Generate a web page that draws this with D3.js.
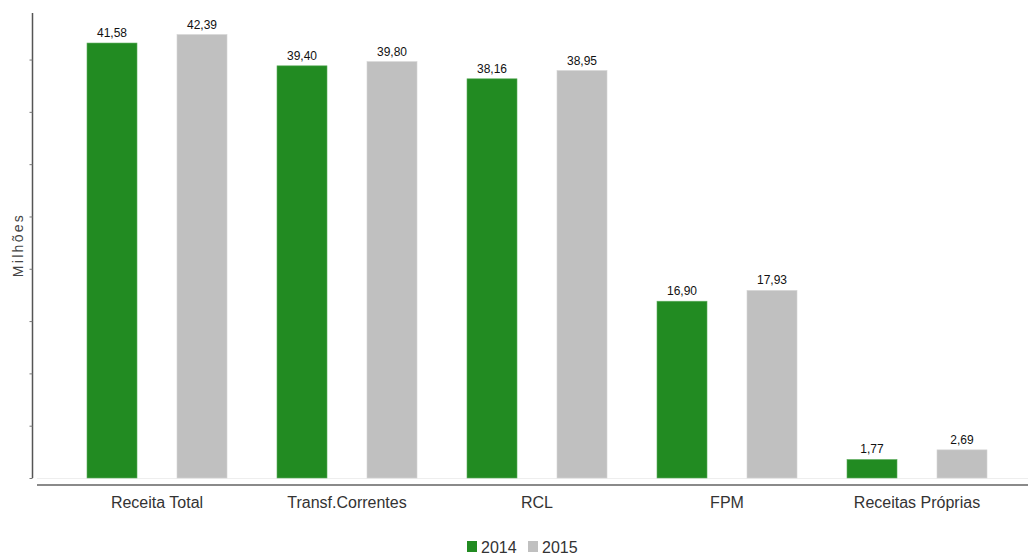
<!DOCTYPE html>
<html>
<head>
<meta charset="utf-8">
<script src="https://cdn.jsdelivr.net/npm/d3@7"></script>
<style>
  html, body { margin: 0; padding: 0; background: #fff; }
  svg { display: block; font-family: "Liberation Sans", Arial, sans-serif; }
</style>
</head>
<body>
<svg id="chart" width="1028" height="556"></svg>
<script>
const categories = ["Receita Total", "Transf.Correntes", "RCL", "FPM", "Receitas Próprias"];
const seriesNames = ["2014", "2015"];
const values2014 = [41.58, 39.40, 38.16, 16.90, 1.77];
const values2015 = [42.39, 39.80, 38.95, 17.93, 2.69];
const valueLabels2014 = ["41,58", "39,40", "38,16", "16,90", "1,77"];
const valueLabels2015 = ["42,39", "39,80", "38,95", "17,93", "2,69"];
const yTicks = [0, 5, 10, 15, 20, 25, 30, 35, 40];
const colors = ["#228b22", "#c0c0c0"];

const svg = d3.select("#chart");

const x0 = d3.scaleBand().domain(categories).range([62, 1012]).padding(0);
const x1 = d3.scaleBand().domain(seriesNames).range([25, 165]).paddingInner(0.4444).paddingOuter(0);
const y = d3.scaleLinear().domain([0, 44.45]).range([478, 13]);
const color = d3.scaleOrdinal().domain(seriesNames).range(colors);

const seriesData = [
  { name: "2014", values: values2014, labels: valueLabels2014 },
  { name: "2015", values: values2015, labels: valueLabels2015 }
];

// faint baseline
svg.append("line").attr("x1", 37).attr("x2", 1028).attr("y1", 478.5).attr("y2", 478.5)
  .attr("stroke", "#eeeeee").attr("stroke-width", 1);

// x axis line
svg.append("line").attr("x1", 37).attr("x2", 1028).attr("y1", 485).attr("y2", 485)
  .attr("stroke", "#8a8a8a").attr("stroke-width", 2);

// y axis
const yAxis = d3.axisLeft(y).tickValues(yTicks).tickSize(3).tickFormat("");
const yg = svg.append("g").attr("transform", "translate(32.5,0)").call(yAxis);
yg.select(".domain").attr("stroke", "#555").attr("stroke-width", 1.5).attr("d", `M0,${y.range()[1]}V${y(0)}`);
yg.selectAll(".tick line").attr("stroke", "#777");

// bars
const groups = svg.append("g").selectAll("g").data(seriesData).join("g")
  .attr("fill", d => color(d.name));

groups.each(function(s) {
  const g = d3.select(this);
  g.selectAll("rect").data(categories.map((c, i) => ({ c, v: s.values[i], l: s.labels[i] })))
    .join("rect")
    .attr("x", d => x0(d.c) + x1(s.name))
    .attr("width", x1.bandwidth())
    .attr("y", d => y(d.v))
    .attr("height", d => y(0) - y(d.v))
    .attr("stroke", s.name === "2014" ? "#5fae5f" : "#d4d4d4")
    .attr("stroke-width", 0.6);
  g.selectAll("text").data(categories.map((c, i) => ({ c, v: s.values[i], l: s.labels[i] })))
    .join("text")
    .attr("x", d => x0(d.c) + x1(s.name) + x1.bandwidth() / 2)
    .attr("y", d => y(d.v) - 6)
    .attr("text-anchor", "middle")
    .attr("font-size", 12)
    .attr("fill", "#111")
    .text(d => d.l);
});

// category labels
svg.append("g").selectAll("text").data(categories).join("text")
  .attr("x", d => x0(d) + x0.bandwidth() / 2)
  .attr("y", 508)
  .attr("text-anchor", "middle")
  .attr("font-size", 16)
  .attr("fill", "#333")
  .text(d => d);

// y label
svg.append("text")
  .attr("transform", "translate(23,245) rotate(-90)")
  .attr("text-anchor", "middle")
  .attr("font-size", 14)
  .attr("letter-spacing", "2.3px")
  .attr("fill", "#444")
  .text("Milhões");

// legend
const legendItems = [
  { name: "2014", sx: 467, tx: 481 },
  { name: "2015", sx: 528, tx: 542 }
];
const lg = svg.append("g");
lg.selectAll("rect").data(legendItems).join("rect")
  .attr("x", d => d.sx).attr("y", 541).attr("width", 10).attr("height", 11)
  .attr("fill", d => color(d.name));
lg.selectAll("text").data(legendItems).join("text")
  .attr("x", d => d.tx).attr("y", 553)
  .attr("font-size", 16).attr("fill", "#333")
  .text(d => d.name);
</script>
</body>
</html>
